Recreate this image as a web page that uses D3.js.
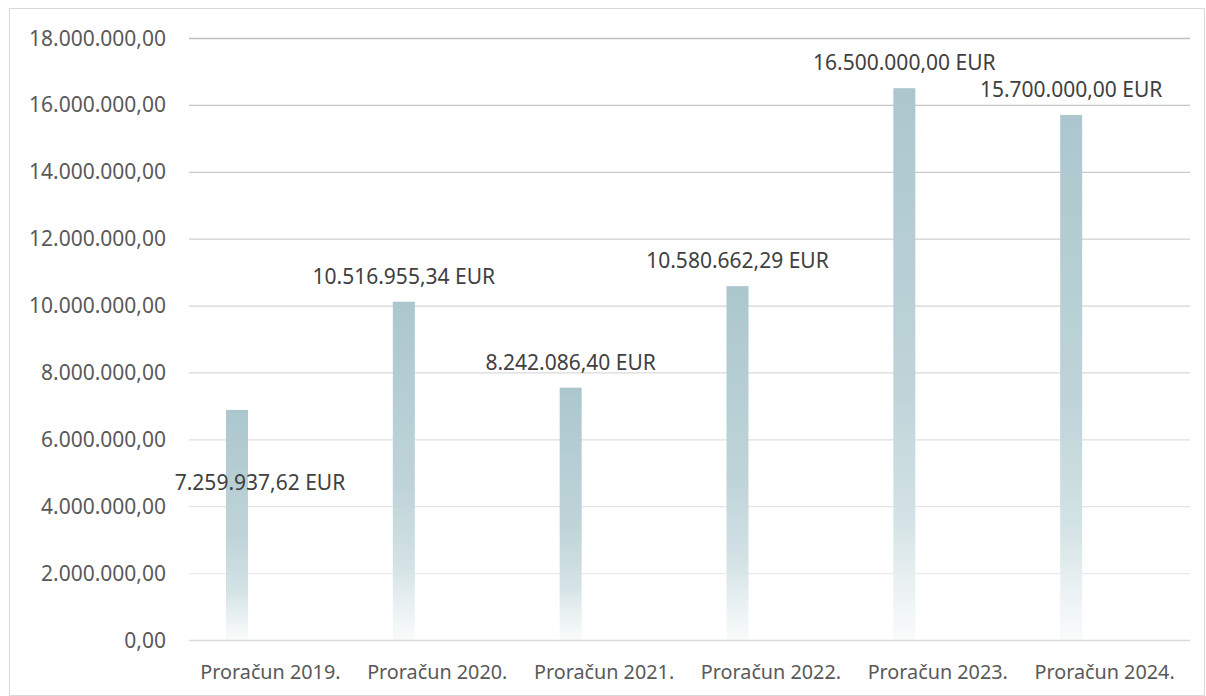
<!DOCTYPE html>
<html lang="hr">
<head>
<meta charset="UTF-8"/>
<title>Proračun 2019. - 2024.</title>
<script src="https://d3js.org/d3.v7.min.js"></script>
<style>
  body { margin: 0; background: #fff; }
  text { font-family: "Noto Sans", "Open Sans", sans-serif; }
</style>
</head>
<body>
<script>
    // categories, bar heights (as drawn) and the data label texts
    var categories = ["Proračun 2019.", "Proračun 2020.", "Proračun 2021.",
                      "Proračun 2022.", "Proračun 2023.", "Proračun 2024."];
    var values = [6880000, 10115000, 7545000, 10580000, 16500000, 15700000];
    var labels = ["7.259.937,62 EUR", "10.516.955,34 EUR", "8.242.086,40 EUR",
                  "10.580.662,29 EUR", "16.500.000,00 EUR", "15.700.000,00 EUR"];
    var yTicks = [0, 2000000, 4000000, 6000000, 8000000, 10000000,
                  12000000, 14000000, 16000000, 18000000];

    var w = 1206;
    var h = 696;
    // plot area (note: "top" is taken by window.top)
    var plotLeft = 189, plotRight = 1190, plotTop = 38, plotBottom = 640;
    var barW = 22, barOffset = 37;

    var svg = d3.select("body")
        .append("svg")
        .attr("width", w)
        .attr("height", h);

    // chart border
    svg.append("rect")
        .attr("x", 9.5).attr("y", 8.5)
        .attr("width", 1195).attr("height", 687)
        .attr("fill", "#fff")
        .attr("stroke", "#d9d9d9");

    var xScale = d3.scaleBand()
        .domain(categories)
        .range([plotLeft, plotRight]);

    var yScale = d3.scaleLinear()
        .domain([0, 18000000])
        .range([plotBottom, plotTop]);

    // number format like 18.000.000,00
    var hr = d3.formatLocale({ decimal: ",", thousands: ".", grouping: [3], currency: ["", ""] });
    var fmt = hr.format(",.2f");

    // gridlines get lighter towards the bottom
    var gridColor = d3.interpolateRgb("#efefef", "#bfbfbf");

    svg.append("g")
        .selectAll("line")
        .data(yTicks.filter(function (d) { return d > 0; }))
        .enter()
        .append("line")
        .attr("x1", plotLeft).attr("x2", plotRight)
        .attr("y1", function (d) { return yScale(d) + 0.5; })
        .attr("y2", function (d) { return yScale(d) + 0.5; })
        .attr("stroke", function (d) { return gridColor(d / 18000000); })
        .attr("stroke-width", 1.3);

    // gradient per bar
    var grad = svg.append("defs").append("linearGradient")
        .attr("id", "barGrad")
        .attr("x1", 0).attr("y1", 0).attr("x2", 0).attr("y2", 1);
    grad.append("stop").attr("offset", "0%").attr("stop-color", "#abc7cd");
    grad.append("stop").attr("offset", "55%").attr("stop-color", "#bfd4d9");
    grad.append("stop").attr("offset", "78%").attr("stop-color", "#d3e2e5");
    grad.append("stop").attr("offset", "90%").attr("stop-color", "#eaf1f2");
    grad.append("stop").attr("offset", "100%").attr("stop-color", "#f9fbfb");

    svg.selectAll("rect.bar")
        .data(values)
        .enter()
        .append("rect")
        .attr("class", "bar")
        .attr("x", function (d, i) { return xScale(categories[i]) + barOffset; })
        .attr("y", function (d) { return yScale(d); })
        .attr("width", barW)
        .attr("height", function (d) { return plotBottom - yScale(d); })
        .attr("fill", "url(#barGrad)");

    // x axis line
    svg.append("line")
        .attr("x1", plotLeft).attr("x2", plotRight)
        .attr("y1", plotBottom + 0.5).attr("y2", plotBottom + 0.5)
        .attr("stroke", "#d9d9d9")
        .attr("stroke-width", 1.3);

    // y tick labels
    svg.append("g")
        .selectAll("text")
        .data(yTicks)
        .enter()
        .append("text")
        .attr("x", 166)
        .attr("y", function (d) { return yScale(d) + 7.5; })
        .attr("text-anchor", "end")
        .attr("font-size", "21px")
        .attr("fill", "#595959")
        .text(function (d) { return fmt(d); });

    // x category labels
    svg.append("g")
        .selectAll("text")
        .data(categories)
        .enter()
        .append("text")
        .attr("x", function (d) { return xScale(d) + xScale.bandwidth() / 2 - 2; })
        .attr("y", 679)
        .attr("text-anchor", "middle")
        .attr("font-size", "19.8px")
        .attr("fill", "#595959")
        .text(function (d) { return d; });

    // data labels (the first one was dragged down onto the bar in the original)
    svg.append("g")
        .selectAll("text")
        .data(values)
        .enter()
        .append("text")
        .attr("x", function (d, i) {
            var cx = xScale(categories[i]) + barOffset + barW / 2;
            return i === 0 ? cx + 23 : cx;
        })
        .attr("y", function (d, i) {
            return i === 0 ? yScale(4480000) : yScale(d) - 18;
        })
        .attr("text-anchor", "middle")
        .attr("font-size", "21px")
        .attr("fill", "#404040")
        .text(function (d, i) { return labels[i]; });
</script>
</body>
</html>
